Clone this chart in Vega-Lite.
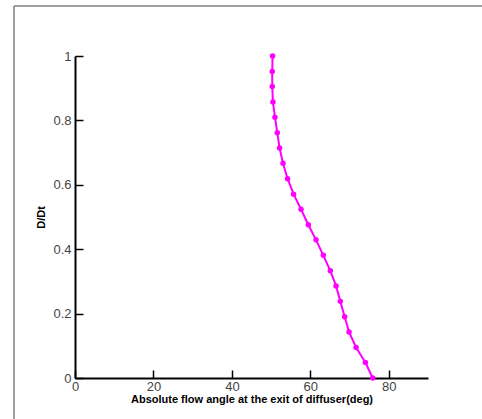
{
  "$schema": "https://vega.github.io/schema/vega-lite/v6.json",
  "width": 353,
  "height": 322,
  "autosize": {"type": "none"},
  "padding": {"left": 75, "top": 56, "right": 54, "bottom": 41},
  "background": "white",
  "config": {
    "view": {"stroke": null},
    "axis": {
      "grid": false,
      "domainColor": "black",
      "domainWidth": 2,
      "tickColor": "black",
      "tickWidth": 1.5,
      "labelFont": "Liberation Sans",
      "labelFontSize": 13,
      "labelColor": "#444444",
      "labelFlush": false,
      "labelOverlap": false,
      "titleFont": "Liberation Sans",
      "titleFontSize": 11,
      "titleFontWeight": "bold",
      "titleColor": "black"
    }
  },
  "datasets": {
    "profile": [
      {"angle": 50.37, "d": 1.0},
      {"angle": 50.29, "d": 0.952},
      {"angle": 50.29, "d": 0.905},
      {"angle": 50.47, "d": 0.857},
      {"angle": 50.98, "d": 0.81},
      {"angle": 51.57, "d": 0.762},
      {"angle": 52.16, "d": 0.714},
      {"angle": 53.03, "d": 0.667},
      {"angle": 54.2, "d": 0.619},
      {"angle": 55.73, "d": 0.571},
      {"angle": 57.62, "d": 0.524},
      {"angle": 59.48, "d": 0.476},
      {"angle": 61.45, "d": 0.429},
      {"angle": 63.31, "d": 0.381},
      {"angle": 65.1, "d": 0.333},
      {"angle": 66.56, "d": 0.286},
      {"angle": 67.65, "d": 0.238},
      {"angle": 68.75, "d": 0.19},
      {"angle": 69.87, "d": 0.143},
      {"angle": 71.66, "d": 0.095},
      {"angle": 74.04, "d": 0.048},
      {"angle": 75.9, "d": 0.0}
    ]
  },
  "layer": [
    {
      "data": {"name": "profile"},
      "mark": {"type": "line", "color": "#ff00ff", "strokeWidth": 2},
      "encoding": {
        "x": {
          "field": "angle",
          "type": "quantitative",
          "scale": {"domain": [0, 90], "nice": false, "zero": false},
          "axis": {
            "title": "Absolute flow angle at the exit of diffuser(deg)",
            "values": [0, 5, 10, 15, 20, 25, 30, 35, 40, 45, 50, 55, 60, 65, 70, 75, 80, 85, 90],
            "labelExpr": "datum.value % 20 === 0 ? datum.label : ''",
            "tickSize": {"condition": {"test": "datum.value % 20 === 0", "value": -8}, "value": -4},
            "labelPadding": 10,
            "titlePadding": 0
          }
        },
        "y": {
          "field": "d",
          "type": "quantitative",
          "scale": {"domain": [0, 1], "nice": false, "zero": false},
          "axis": {
            "title": "D/Dt",
            "format": "~g",
            "values": [0, 0.05, 0.1, 0.15, 0.2, 0.25, 0.3, 0.35, 0.4, 0.45, 0.5, 0.55, 0.6, 0.65, 0.7, 0.75, 0.8, 0.85, 0.9, 0.95, 1],
            "labelExpr": "round(datum.value * 100) % 20 === 0 ? datum.label : ''",
            "tickSize": {"condition": {"test": "round(datum.value * 100) % 20 === 0", "value": -8}, "value": -4},
            "labelPadding": 12,
            "titlePadding": 6
          }
        },
        "order": {"field": "d", "type": "quantitative", "sort": "descending"}
      }
    },
    {
      "data": {"name": "profile"},
      "mark": {"type": "point", "filled": true, "color": "#ff00ff", "size": 30, "opacity": 1},
      "encoding": {
        "x": {"field": "angle", "type": "quantitative"},
        "y": {"field": "d", "type": "quantitative"}
      }
    },
    {
      "data": {"values": [{}]},
      "mark": {"type": "rule", "color": "#808080", "strokeWidth": 1.5},
      "encoding": {
        "x": {"datum": -15.55, "type": "quantitative"},
        "y": {"datum": -0.2, "type": "quantitative"},
        "y2": {"datum": 1.155}
      }
    },
    {
      "data": {"values": [{}]},
      "mark": {"type": "rule", "color": "#808080", "strokeWidth": 1.5},
      "encoding": {
        "y": {"datum": 1.155, "type": "quantitative"},
        "x": {"datum": -15.55, "type": "quantitative"},
        "x2": {"datum": 120}
      }
    }
  ]
}
